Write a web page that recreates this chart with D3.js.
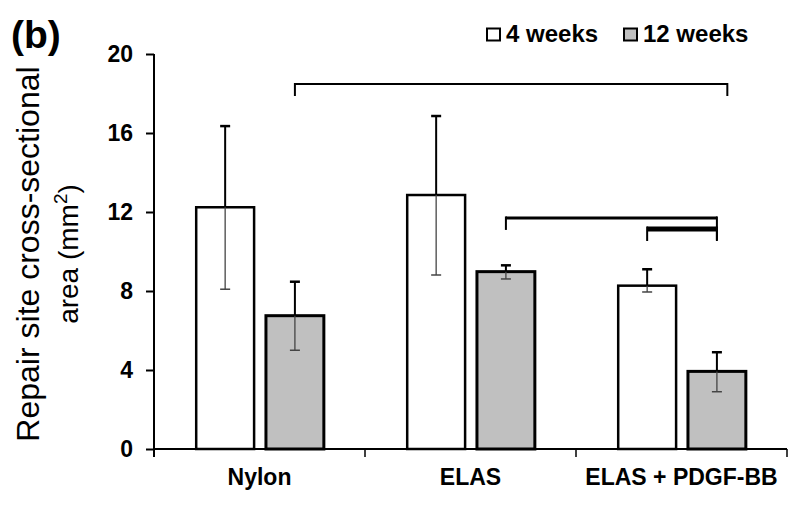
<!DOCTYPE html>
<html>
<head>
<meta charset="utf-8">
<script src="https://cdn.jsdelivr.net/npm/d3@7"></script>
<style>
  html, body { margin: 0; padding: 0; background: #fff; }
  svg { display: block; }
  text { font-family: "Liberation Sans", Arial, sans-serif; fill: #000; }
</style>
</head>
<body>
<svg id="chart" width="800" height="506"></svg>
<script>
// ---- data ----
const categories = ["Nylon", "ELAS", "ELAS + PDGF-BB"];
const seriesNames = ["4 weeks", "12 weeks"];
const values4w = [12.24, 12.86, 8.27];
const values12w = [6.75, 8.98, 3.93];
const errHigh4w = [4.11, 4.0, 0.83];
const errLow4w = [4.15, 4.05, 0.32];
const errHigh12w = [1.72, 0.32, 0.97];
const errLow12w = [1.75, 0.37, 1.03];
const yTicks = [0, 4, 8, 12, 16, 20];
// significance brackets: [fromCategory, fromSeries, toCategory, toSeries, yValue]
const brackets = [
  ["Nylon", "12 weeks", "ELAS + PDGF-BB", "12 weeks", 18.48],
  ["ELAS", "12 weeks", "ELAS + PDGF-BB", "12 weeks", 11.7],
  ["ELAS + PDGF-BB", "4 weeks", "ELAS + PDGF-BB", "12 weeks", 11.14]
];

// ---- layout ----
const svg = d3.select("#chart");
const mLeft = 154, mRight = 787, mTop = 54, mBottom = 449;

const x0 = d3.scaleBand().domain(categories).range([mLeft, mRight]).paddingInner(0).paddingOuter(0);
const bw = x0.bandwidth();
const x1 = d3.scaleBand().domain(seriesNames).range([bw * 0.2, bw * 0.805]).paddingInner(0.17);
const y = d3.scaleLinear().domain([0, 20]).range([mBottom, mTop]);

const rows = [];
categories.forEach((c, i) => {
  rows.push({cat: c, s: "4 weeks", v: values4w[i], hi: errHigh4w[i], lo: errLow4w[i]});
  rows.push({cat: c, s: "12 weeks", v: values12w[i], hi: errHigh12w[i], lo: errLow12w[i]});
});
const cx = (c, s) => x0(c) + x1(s) + x1.bandwidth() / 2;

// bars
svg.append("g").selectAll("rect").data(rows).join("rect")
  .attr("x", d => x0(d.cat) + x1(d.s))
  .attr("y", d => y(d.v))
  .attr("width", x1.bandwidth())
  .attr("height", d => y(0) - y(d.v))
  .attr("fill", d => d.s === "4 weeks" ? "#ffffff" : "#c0c0c0")
  .attr("stroke", "#000")
  .attr("stroke-width", d => d.s === "4 weeks" ? 2.5 : 3);

// error bars
const eg = svg.append("g");
rows.forEach(d => {
  const x = cx(d.cat, d.s);
  eg.append("line").attr("x1", x).attr("x2", x).attr("y1", y(d.v)).attr("y2", y(d.v + d.hi))
    .attr("stroke", "#000").attr("stroke-width", 2);
  eg.append("line").attr("x1", x - 5).attr("x2", x + 5).attr("y1", y(d.v + d.hi)).attr("y2", y(d.v + d.hi))
    .attr("stroke", "#000").attr("stroke-width", 2.5);
  eg.append("line").attr("x1", x).attr("x2", x).attr("y1", y(d.v)).attr("y2", y(d.v - d.lo))
    .attr("stroke", "#444").attr("stroke-width", 1.3);
  eg.append("line").attr("x1", x - 5).attr("x2", x + 5).attr("y1", y(d.v - d.lo)).attr("y2", y(d.v - d.lo))
    .attr("stroke", "#444").attr("stroke-width", 1.5);
});

// y axis
const yAxis = d3.axisLeft(y).tickValues(yTicks).tickSize(8).tickPadding(13).tickSizeOuter(0);
const ya = svg.append("g").attr("transform", `translate(${mLeft},0)`).call(yAxis);
ya.select(".domain").attr("stroke", "#000").attr("stroke-width", 2)
  .attr("d", `M0,${mTop}V${mBottom + 8}`);
ya.selectAll(".tick line").attr("stroke", "#000").attr("stroke-width", 2);
ya.selectAll(".tick text").style("font-family", "'Liberation Sans', Arial, sans-serif")
  .style("font-size", "23px").style("font-weight", "bold").attr("fill", "#000");

// x axis
const xa = svg.append("g").attr("transform", `translate(0,${mBottom})`);
xa.append("line").attr("x1", mLeft).attr("x2", mRight).attr("y1", 0).attr("y2", 0)
  .attr("stroke", "#000").attr("stroke-width", 1.8);
const boundaries = categories.map(c => x0(c)).concat([x0(categories[categories.length - 1]) + bw]);
xa.selectAll("line.b").data(boundaries.slice(1)).join("line").attr("class", "b")
  .attr("x1", d => d).attr("x2", d => d).attr("y1", 0).attr("y2", 8)
  .attr("stroke", "#000").attr("stroke-width", 1.5);
xa.selectAll("text").data(categories).join("text")
  .attr("x", c => x0(c) + bw / 2).attr("y", 36)
  .attr("text-anchor", "middle")
  .style("font-size", "23px").style("font-weight", "bold")
  .text(c => c);

// brackets
const bg = svg.append("g");
brackets.forEach((b, i) => {
  const xa1 = cx(b[0], b[1]);
  let xb1 = cx(b[2], b[3]);
  if (i === 0) xb1 += x1.bandwidth() * 0.18;
  const yy = y(b[4]);
  const sw = i === 0 ? 2 : (i === 1 ? 3 : 5);
  bg.append("line").attr("x1", xa1).attr("x2", xb1).attr("y1", yy).attr("y2", yy)
    .attr("stroke", "#000").attr("stroke-width", sw);
  bg.append("line").attr("x1", xa1).attr("x2", xa1).attr("y1", yy - sw / 2).attr("y2", yy + 12)
    .attr("stroke", "#000").attr("stroke-width", 2);
  bg.append("line").attr("x1", xb1).attr("x2", xb1).attr("y1", yy - sw / 2).attr("y2", yy + (i === 1 ? 22 : 12))
    .attr("stroke", "#000").attr("stroke-width", 2);
});

// y label
const yl = svg.append("g").attr("transform", "translate(39,254) rotate(-90)");
yl.append("text").attr("text-anchor", "middle").attr("x", 0).attr("y", 0)
  .style("font-size", "32px").text("Repair site cross-sectional");
const l2 = yl.append("text").attr("text-anchor", "middle").attr("x", 0).attr("y", 39)
  .style("font-size", "28px");
l2.append("tspan").text("area (mm");
l2.append("tspan").attr("dy", -11).style("font-size", "19px").text("2");
l2.append("tspan").attr("dy", 11).text(")");

// panel label
svg.append("text").attr("x", 11).attr("y", 48)
  .style("font-size", "39px").style("font-weight", "bold").text("(b)");

// legend
const legendX = [487, 624];
const lg = svg.append("g");
seriesNames.forEach((s, i) => {
  lg.append("rect").attr("x", legendX[i]).attr("y", 28.5).attr("width", 13).attr("height", 12)
    .attr("fill", i === 0 ? "#fff" : "#c0c0c0").attr("stroke", "#000").attr("stroke-width", 2);
  lg.append("text").attr("x", legendX[i] + 19).attr("y", 42)
    .style("font-size", "24px").style("font-weight", "bold").text(s);
});
</script>
</body>
</html>
